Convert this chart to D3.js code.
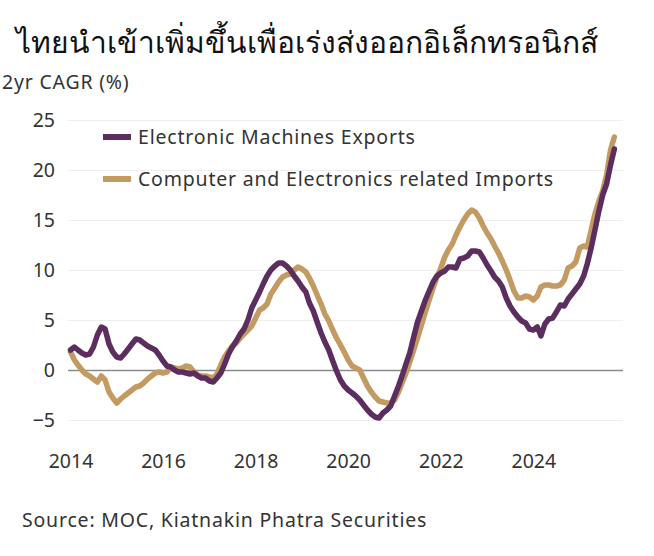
<!DOCTYPE html>
<html><head><meta charset="utf-8">
<script src="https://cdn.jsdelivr.net/npm/d3@7"></script>
<style>
body{margin:0;background:#fff;}
svg text{font-family:"Noto Sans","DejaVu Sans",sans-serif;fill:#333;}
</style></head>
<body><svg id="c" width="654" height="556"></svg>
<script>
const title = "ไทยนำเข้าเพิ่มขึ้นเพื่อเร่งส่งออกอิเล็กทรอนิกส์";
const yLabel = "2yr CAGR (%)";
const source = "Source: MOC, Kiatnakin Phatra Securities";
const seriesNames = ["Electronic Machines Exports", "Computer and Electronics related Imports"];
const startMonth = "2014-01";
const yTicks = [-5, 0, 5, 10, 15, 20, 25];
const xTickYears = [2014, 2016, 2018, 2020, 2022, 2024];

const exportsGrowth = [
 2.0,2.3,2.0,1.7,1.5,1.6,2.3,3.5,4.3,4.1,2.6,1.8,
 1.3,1.2,1.6,2.1,2.6,3.1,3.0,2.7,2.4,2.2,2.0,1.5,
 0.9,0.4,0.3,0.0,-0.2,-0.2,-0.3,-0.4,-0.3,-0.6,-0.8,-0.8,
 -1.1,-1.2,-0.8,-0.3,0.6,1.6,2.3,2.9,3.6,4.1,5.0,6.2,
 7.0,7.8,8.6,9.4,10.0,10.4,10.7,10.7,10.4,10.0,9.4,8.9,
 8.3,7.8,6.7,5.9,4.8,3.7,2.8,2.0,0.9,-0.1,-1.0,-1.6,
 -2.0,-2.3,-2.6,-3.0,-3.5,-4.0,-4.4,-4.7,-4.8,-4.3,-4.0,-3.6,
 -2.6,-1.6,-0.6,0.6,1.7,3.3,4.8,5.9,7.0,7.9,8.8,9.4,
 9.7,9.9,10.3,10.3,10.2,11.1,11.2,11.4,11.9,11.9,11.8,11.2,
 10.5,9.9,9.3,8.9,8.3,7.2,6.4,5.8,5.3,4.9,4.7,4.1,
 4.0,4.3,3.4,4.6,5.1,5.2,5.8,6.5,6.4,7.1,7.6,8.1,
 8.6,9.4,10.6,12.2,14.0,15.9,17.5,18.6,20.5,22.1
];
const importsGrowth = [
 1.8,1.0,0.5,0.0,-0.4,-0.6,-0.9,-1.2,-0.6,-1.0,-2.2,-2.8,
 -3.3,-2.9,-2.6,-2.3,-2.0,-1.7,-1.6,-1.3,-0.9,-0.6,-0.3,-0.2,
 -0.3,-0.2,0.3,0.2,0.1,0.2,0.4,0.3,-0.2,-0.5,-0.6,-0.6,
 -0.7,-0.8,-0.4,0.5,1.3,1.9,2.4,2.7,3.2,3.6,4.0,4.4,
 5.2,6.0,6.2,6.6,7.6,8.2,8.8,9.3,9.5,9.6,10.0,10.3,
 10.1,9.8,9.2,8.4,7.5,6.6,5.6,4.9,4.0,3.2,2.5,1.8,
 1.0,0.4,0.2,0.0,-0.8,-1.6,-2.2,-2.7,-3.1,-3.2,-3.3,-3.3,
 -3.0,-2.2,-1.3,-0.3,0.8,2.0,3.2,4.5,5.8,7.0,8.2,9.3,
 10.2,11.3,12.0,12.6,13.5,14.3,15.0,15.6,16.0,15.8,15.2,14.4,
 13.7,13.1,12.4,11.7,10.9,10.0,9.0,7.9,7.2,7.2,7.4,7.3,
 7.0,7.4,8.3,8.5,8.5,8.4,8.4,8.5,9.0,10.2,10.4,10.8,
 12.2,12.4,12.3,14.0,15.6,16.9,17.9,19.5,22.0,23.3
];

const colors = ["#5c2e5f", "#c39a62"];
const svg = d3.select("#c");
const parse = d3.timeParse("%Y-%m");
const t0 = parse(startMonth);
const months = d3.range(exportsGrowth.length).map(i => d3.timeMonth.offset(t0, i));

const x = d3.scaleTime().domain([new Date(2014,0,1), new Date(2026,0,1)]).range([70.5, 626]);
const y = d3.scaleLinear().domain([-5, 25]).range([420, 120]);
const gridL = 68, gridR = 623;
const fs = 19.5, ls = 0.8;

// title & labels
svg.append("text").attr("x", 16).attr("y", 53).attr("font-size", 30).attr("font-weight", 500)
  .style("fill", "#111").text(title);
svg.append("text").attr("x", 2).attr("y", 89).attr("font-size", fs).attr("letter-spacing", ls).text(yLabel);
svg.append("text").attr("x", 22).attr("y", 527).attr("font-size", fs).attr("letter-spacing", ls).text(source);

// grid
const yAxis = d3.axisLeft(y).tickValues(yTicks).tickSize(-(gridR - gridL)).tickPadding(13).tickFormat(d3.format("d"));
const gy = svg.append("g").attr("transform", `translate(${gridL},0)`).call(yAxis);
gy.select(".domain").remove();
gy.selectAll(".tick line").attr("stroke", d => d === 0 ? "#8a8a8a" : "#eeeeee").attr("stroke-width", d => d === 0 ? 1.6 : 1);
gy.selectAll(".tick text").attr("font-size", fs).attr("fill", "#333").style("font-family", "'Noto Sans', sans-serif");

const xAxis = d3.axisBottom(x).tickValues(xTickYears.map(yr => new Date(yr,0,1))).tickSize(0).tickPadding(0).tickFormat(d3.timeFormat("%Y"));
const gx = svg.append("g").attr("transform", `translate(0,468)`).call(xAxis);
gx.select(".domain").remove();
gx.selectAll(".tick text").attr("font-size", fs).attr("fill", "#333").attr("dy", 0).style("font-family", "'Noto Sans', sans-serif");

// lines
const line = d3.line().x((d,i) => x(months[i])).y(d => y(d)).curve(d3.curveLinear);
[importsGrowth, exportsGrowth].forEach((s, k) => {
  svg.append("path").datum(s).attr("d", line).attr("fill", "none")
    .attr("stroke", k === 0 ? colors[1] : colors[0]).attr("stroke-width", 5.5)
    .attr("stroke-linejoin", "round").attr("stroke-linecap", "round");
});
// legend
const lg = svg.append("g");
seriesNames.forEach((n, i) => {
  const yy = 137 + i * 42;
  lg.append("line").attr("x1", 103).attr("x2", 131).attr("y1", yy).attr("y2", yy)
    .attr("stroke", colors[i]).attr("stroke-width", 6);
  lg.append("text").attr("x", 138).attr("y", yy).attr("dy", "0.35em").attr("font-size", fs)
    .attr("letter-spacing", ls).text(n);
});
</script></body></html>
